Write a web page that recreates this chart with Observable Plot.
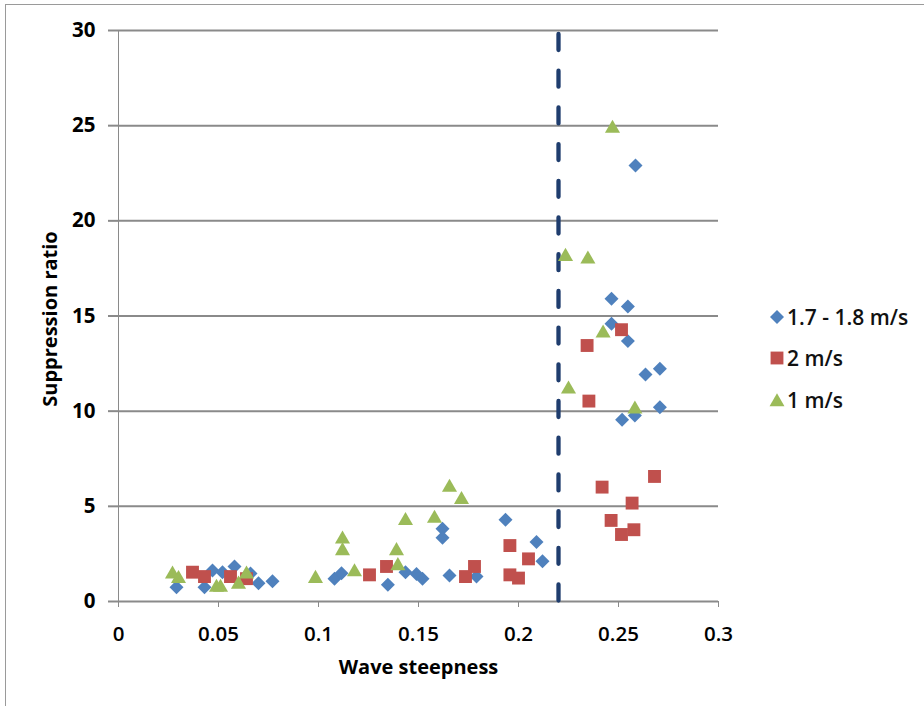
<!DOCTYPE html>
<html>
<head>
<meta charset="utf-8">
<script src="https://cdn.jsdelivr.net/npm/d3@7"></script>
<script src="https://cdn.jsdelivr.net/npm/@observablehq/plot@0.6"></script>
<style>
  html, body { margin: 0; padding: 0; background: #fff; }
  #wrap { position: relative; width: 924px; height: 706px; overflow: hidden; }
  #frame { position: absolute; left: 5px; top: 4px; width: 2000px; height: 2000px; border-top: 1px solid #9a9a9a; border-left: 1px solid #9a9a9a; }
  #legend { position: absolute; left: 768px; top: 296px; font-family: "Open Sans", Lato, sans-serif; font-size: 21px; font-weight: 600; color: #111; }
  #legend .item { display: flex; align-items: center; height: 41.5px; }
  #legend svg { margin-right: 1px; }
</style>
</head>
<body>
<div id="wrap">
  <div id="frame"></div>
  <div id="chart"></div>
  <div id="legend"></div>
</div>
<script>
// Series: 1.7 - 1.8 m/s (diamonds)
const blueX = [0.029, 0.043, 0.047, 0.052, 0.058, 0.066, 0.070, 0.077, 0.108, 0.1115, 0.1347, 0.1435, 0.149, 0.152, 0.162, 0.162, 0.1655, 0.179, 0.1935, 0.209, 0.212, 0.2465, 0.2547, 0.2465, 0.2547, 0.2635, 0.2707, 0.2707, 0.2518, 0.2582, 0.2585];
const blueY = [0.75, 0.75, 1.63, 1.54, 1.84, 1.47, 0.96, 1.07, 1.19, 1.49, 0.88, 1.54, 1.45, 1.19, 3.82, 3.35, 1.37, 1.31, 4.29, 3.12, 2.12, 15.91, 15.50, 14.59, 13.68, 11.93, 12.23, 10.21, 9.55, 9.77, 22.91];
// Series: 2 m/s (squares)
const redX = [0.037, 0.043, 0.056, 0.064, 0.1255, 0.134, 0.1735, 0.178, 0.1957, 0.1957, 0.200, 0.205, 0.2515, 0.2343, 0.2352, 0.2418, 0.268, 0.2568, 0.2463, 0.2515, 0.2577];
const redY = [1.54, 1.31, 1.31, 1.20, 1.40, 1.84, 1.31, 1.84, 2.94, 1.40, 1.23, 2.24, 14.28, 13.45, 10.53, 6.01, 6.57, 5.17, 4.26, 3.52, 3.77];
// Series: 1 m/s (triangles)
const greenX = [0.027, 0.030, 0.049, 0.051, 0.060, 0.064, 0.0985, 0.112, 0.112, 0.118, 0.1435, 0.139, 0.1397, 0.158, 0.1655, 0.1715, 0.247, 0.2235, 0.2347, 0.2423, 0.225, 0.2582];
const greenY = [1.54, 1.30, 0.84, 0.84, 1.01, 1.54, 1.31, 3.38, 2.77, 1.66, 4.35, 2.77, 1.98, 4.47, 6.10, 5.45, 24.96, 18.23, 18.09, 14.20, 11.26, 10.21];

const seriesNames = ["1.7 - 1.8 m/s", "2 m/s", "1 m/s"];
const seriesColors = ["#4F81BD", "#C0504D", "#9BBB59"];
const xTicks = [0, 0.05, 0.1, 0.15, 0.2, 0.25, 0.3];
const yTicks = [0, 5, 10, 15, 20, 25, 30];
const threshold = [0.22];
const xLabel = "Wave steepness";
const yLabel = "Suppression ratio";

const zip = (xs, ys) => xs.map((x, i) => ({x, y: ys[i]}));
const blue = zip(blueX, blueY), red = zip(redX, redY), green = zip(greenX, greenY);

const chart = Plot.plot({
  width: 924,
  height: 706,
  marginLeft: 118,
  marginRight: 206,
  marginTop: 30,
  marginBottom: 105,
  style: {fontFamily: "'Open Sans', Lato, sans-serif", fontSize: "21px", fontWeight: "600", color: "#000", background: "transparent", overflow: "visible"},
  x: {domain: [0, 0.3], ticks: xTicks},
  y: {domain: [0, 30], ticks: yTicks},
  marks: [
    Plot.gridY(yTicks, {stroke: "#8a8a8a", strokeOpacity: 1, strokeWidth: 2}),
    Plot.axisY(yTicks, {tickSize: 10, stroke: "#8a8a8a", strokeWidth: 2, label: null, tickFormat: () => ""}),
    Plot.text(yTicks, {y: d => d, text: d => String(d), frameAnchor: "left", textAnchor: "end", lineAnchor: "middle", dx: -23, fontSize: 20.5, fontWeight: "bold"}),
    Plot.ruleX([0], {y1: 0, y2: 30, stroke: "#8a8a8a", strokeWidth: 1}),
    Plot.axisX(xTicks, {tickSize: 6, stroke: "#8a8a8a", strokeWidth: 1, label: null, tickFormat: () => ""}),
    Plot.text(xTicks, {x: d => d, text: d => String(+d.toFixed(2)), frameAnchor: "bottom", textAnchor: "middle", lineAnchor: "middle", dy: 33, fontSize: 20.5, fontWeight: "600"}),
    Plot.text([xLabel], {frameAnchor: "bottom", textAnchor: "middle", lineAnchor: "middle", dy: 66, fontSize: 20, fontWeight: "bold"}),
    Plot.text([yLabel], {frameAnchor: "left", textAnchor: "middle", lineAnchor: "middle", rotate: -90, dx: -68, dy: 3, fontSize: 20, fontWeight: "bold"}),
    Plot.ruleX(threshold, {y1: 30, y2: 0, stroke: "#1f3d6e", strokeWidth: 4.3, strokeDasharray: "16,20.7", strokeDashoffset: 32.7, strokeLinecap: "round"}),
    Plot.dot(blue, {x: "x", y: "y", symbol: "diamond2", r: 6.3, fill: seriesColors[0], stroke: "none"}),
    Plot.dot(red, {x: "x", y: "y", symbol: "square2", r: 8.2, fill: seriesColors[1], stroke: "none"}),
    Plot.dot(green, {x: "x", y: "y", symbol: "triangle2", r: 7.2, dy: 2, fill: seriesColors[2], stroke: "none"})
  ]
});
document.getElementById("chart").appendChild(chart);

// Legend
const legendSymbols = [d3.symbolDiamond2, d3.symbolSquare2, d3.symbolTriangle2];
const legendSizes = [125, 210, 160];
const legend = d3.select("#legend");
seriesNames.forEach((name, i) => {
  const item = legend.append("div").attr("class", "item");
  const s = item.append("svg").attr("width", 18).attr("height", 18);
  s.append("path")
    .attr("transform", i === 2 ? "translate(9,11)" : "translate(9,9)")
    .attr("d", d3.symbol(legendSymbols[i], legendSizes[i])())
    .attr("fill", seriesColors[i]);
  item.append("span").text(name);
});
</script>
</body>
</html>
